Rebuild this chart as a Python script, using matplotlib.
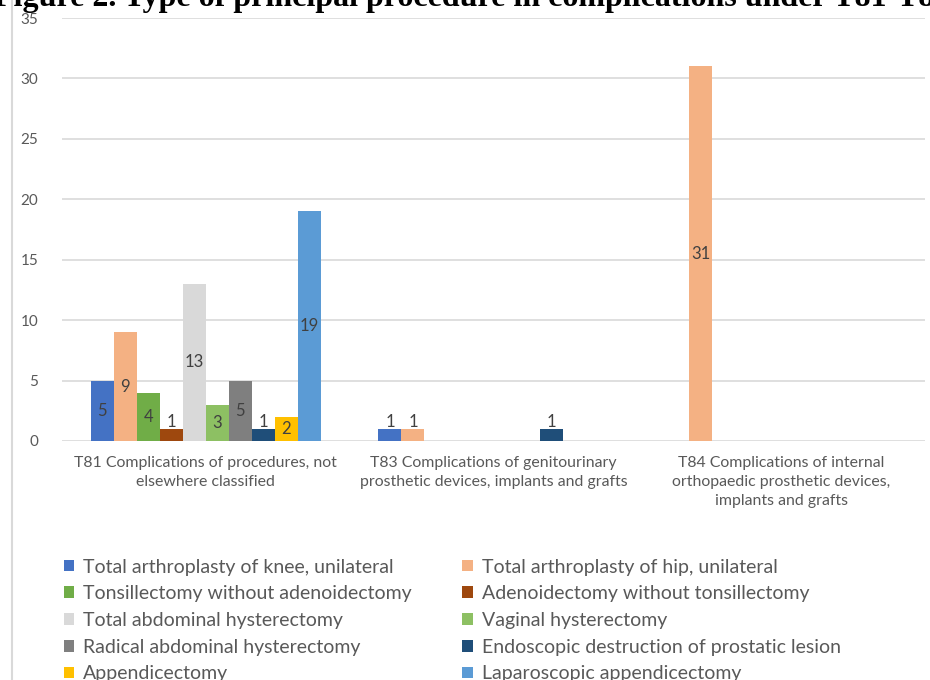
import matplotlib
matplotlib.use("Agg")
import matplotlib.pyplot as plt
from matplotlib import font_manager
from matplotlib.patches import Patch
import numpy as np

available = {f.name for f in font_manager.fontManager.ttflist}
SANS = "Liberation Sans Narrow" if "Liberation Sans Narrow" in available else "Lato"
plt.rcParams["font.family"] = [SANS, "DejaVu Sans"]

categories = [
    "T81 Complications of procedures, not\nelsewhere classified",
    "T83 Complications of genitourinary\nprosthetic devices, implants and grafts",
    "T84 Complications of internal\northopaedic prosthetic devices,\nimplants and grafts",
]

procedures = [
    "Total arthroplasty of knee, unilateral",
    "Total arthroplasty of hip, unilateral",
    "Tonsillectomy without adenoidectomy",
    "Adenoidectomy without tonsillectomy",
    "Total abdominal hysterectomy",
    "Vaginal hysterectomy",
    "Radical abdominal hysterectomy",
    "Endoscopic destruction of prostatic lesion",
    "Appendicectomy",
    "Laparoscopic appendicectomy",
]

knee = [5, 1, 0]
hip = [9, 1, 31]
tonsillectomy = [4, 0, 0]
adenoidectomy = [1, 0, 0]
total_abdominal = [13, 0, 0]
vaginal = [3, 0, 0]
radical_abdominal = [5, 0, 0]
endoscopic_prostate = [1, 1, 0]
appendicectomy = [2, 0, 0]
laparoscopic_app = [19, 0, 0]

series = [knee, hip, tonsillectomy, adenoidectomy, total_abdominal,
          vaginal, radical_abdominal, endoscopic_prostate, appendicectomy,
          laparoscopic_app]

colors = ["#4472C4", "#F4B183", "#70AD47", "#9E480E", "#D9D9D9",
          "#8DC063", "#7F7F7F", "#1F4E79", "#FFC000", "#5B9BD5"]

y_ticks = [0, 5, 10, 15, 20, 25, 30, 35]

title = "Figure 2. Type of principal procedure in complications under T81-T84"

fig = plt.figure(figsize=(9.3, 6.8), dpi=100)
ax = fig.add_axes([62 / 930, (680 - 441) / 680, (925 - 62) / 930, (441 - 18) / 680])

x = np.arange(len(categories))
n = len(series)
width = 0.8 / n

for i, (vals, col) in enumerate(zip(series, colors)):
    xs = x - 0.4 + width * (i + 0.5)
    for xi, v in zip(xs, vals):
        if v == 0:
            continue
        ax.bar(xi, v, width=width, color=col, zorder=3, linewidth=0)
        ypos = v / 2 if v > 1 else v + 0.6
        ax.text(xi, ypos, str(v), ha="center", va="center",
                fontsize=12, color="#404040", zorder=4)

ax.set_xlim(-0.5, len(categories) - 0.5)
ax.set_ylim(0, 35)
ax.set_yticks(y_ticks)
ax.set_xticks(x)
ax.set_xticklabels(categories, fontsize=11.4, color="#595959", linespacing=1.45)
ax.tick_params(axis="y", labelsize=11, labelcolor="#595959", length=0, pad=17)
ax.tick_params(axis="x", length=0, pad=11)
ax.grid(axis="y", color="#D9D9D9", linewidth=1.2, zorder=0)
for s in ax.spines.values():
    s.set_visible(False)

# outer chart-area border on the left edge
fig.add_artist(plt.Line2D([11.5 / 930, 11.5 / 930], [0, 1], color="#D9D9D9",
                          linewidth=1.5, transform=fig.transFigure))

# title, mostly above the top edge of the frame
fig.text(-6 / 930, 1 - 6 / 680, title,
         family="Liberation Serif", fontweight="bold", fontsize=23,
         ha="left", va="baseline", color="black")

order = [0, 2, 4, 6, 8, 1, 3, 5, 7, 9]
handles = [Patch(facecolor=colors[k], edgecolor="none") for k in order]
labels = [procedures[k] for k in order]
fig.legend(handles, labels, ncol=2, loc="upper left",
           bbox_to_anchor=(46 / 930, 1 - 541 / 680), frameon=False,
           fontsize=14, labelcolor="#595959", handlelength=0.55,
           handleheight=0.55, handletextpad=0.45, labelspacing=0.5,
           columnspacing=2.6)

fig.savefig("out.png", dpi=100)
